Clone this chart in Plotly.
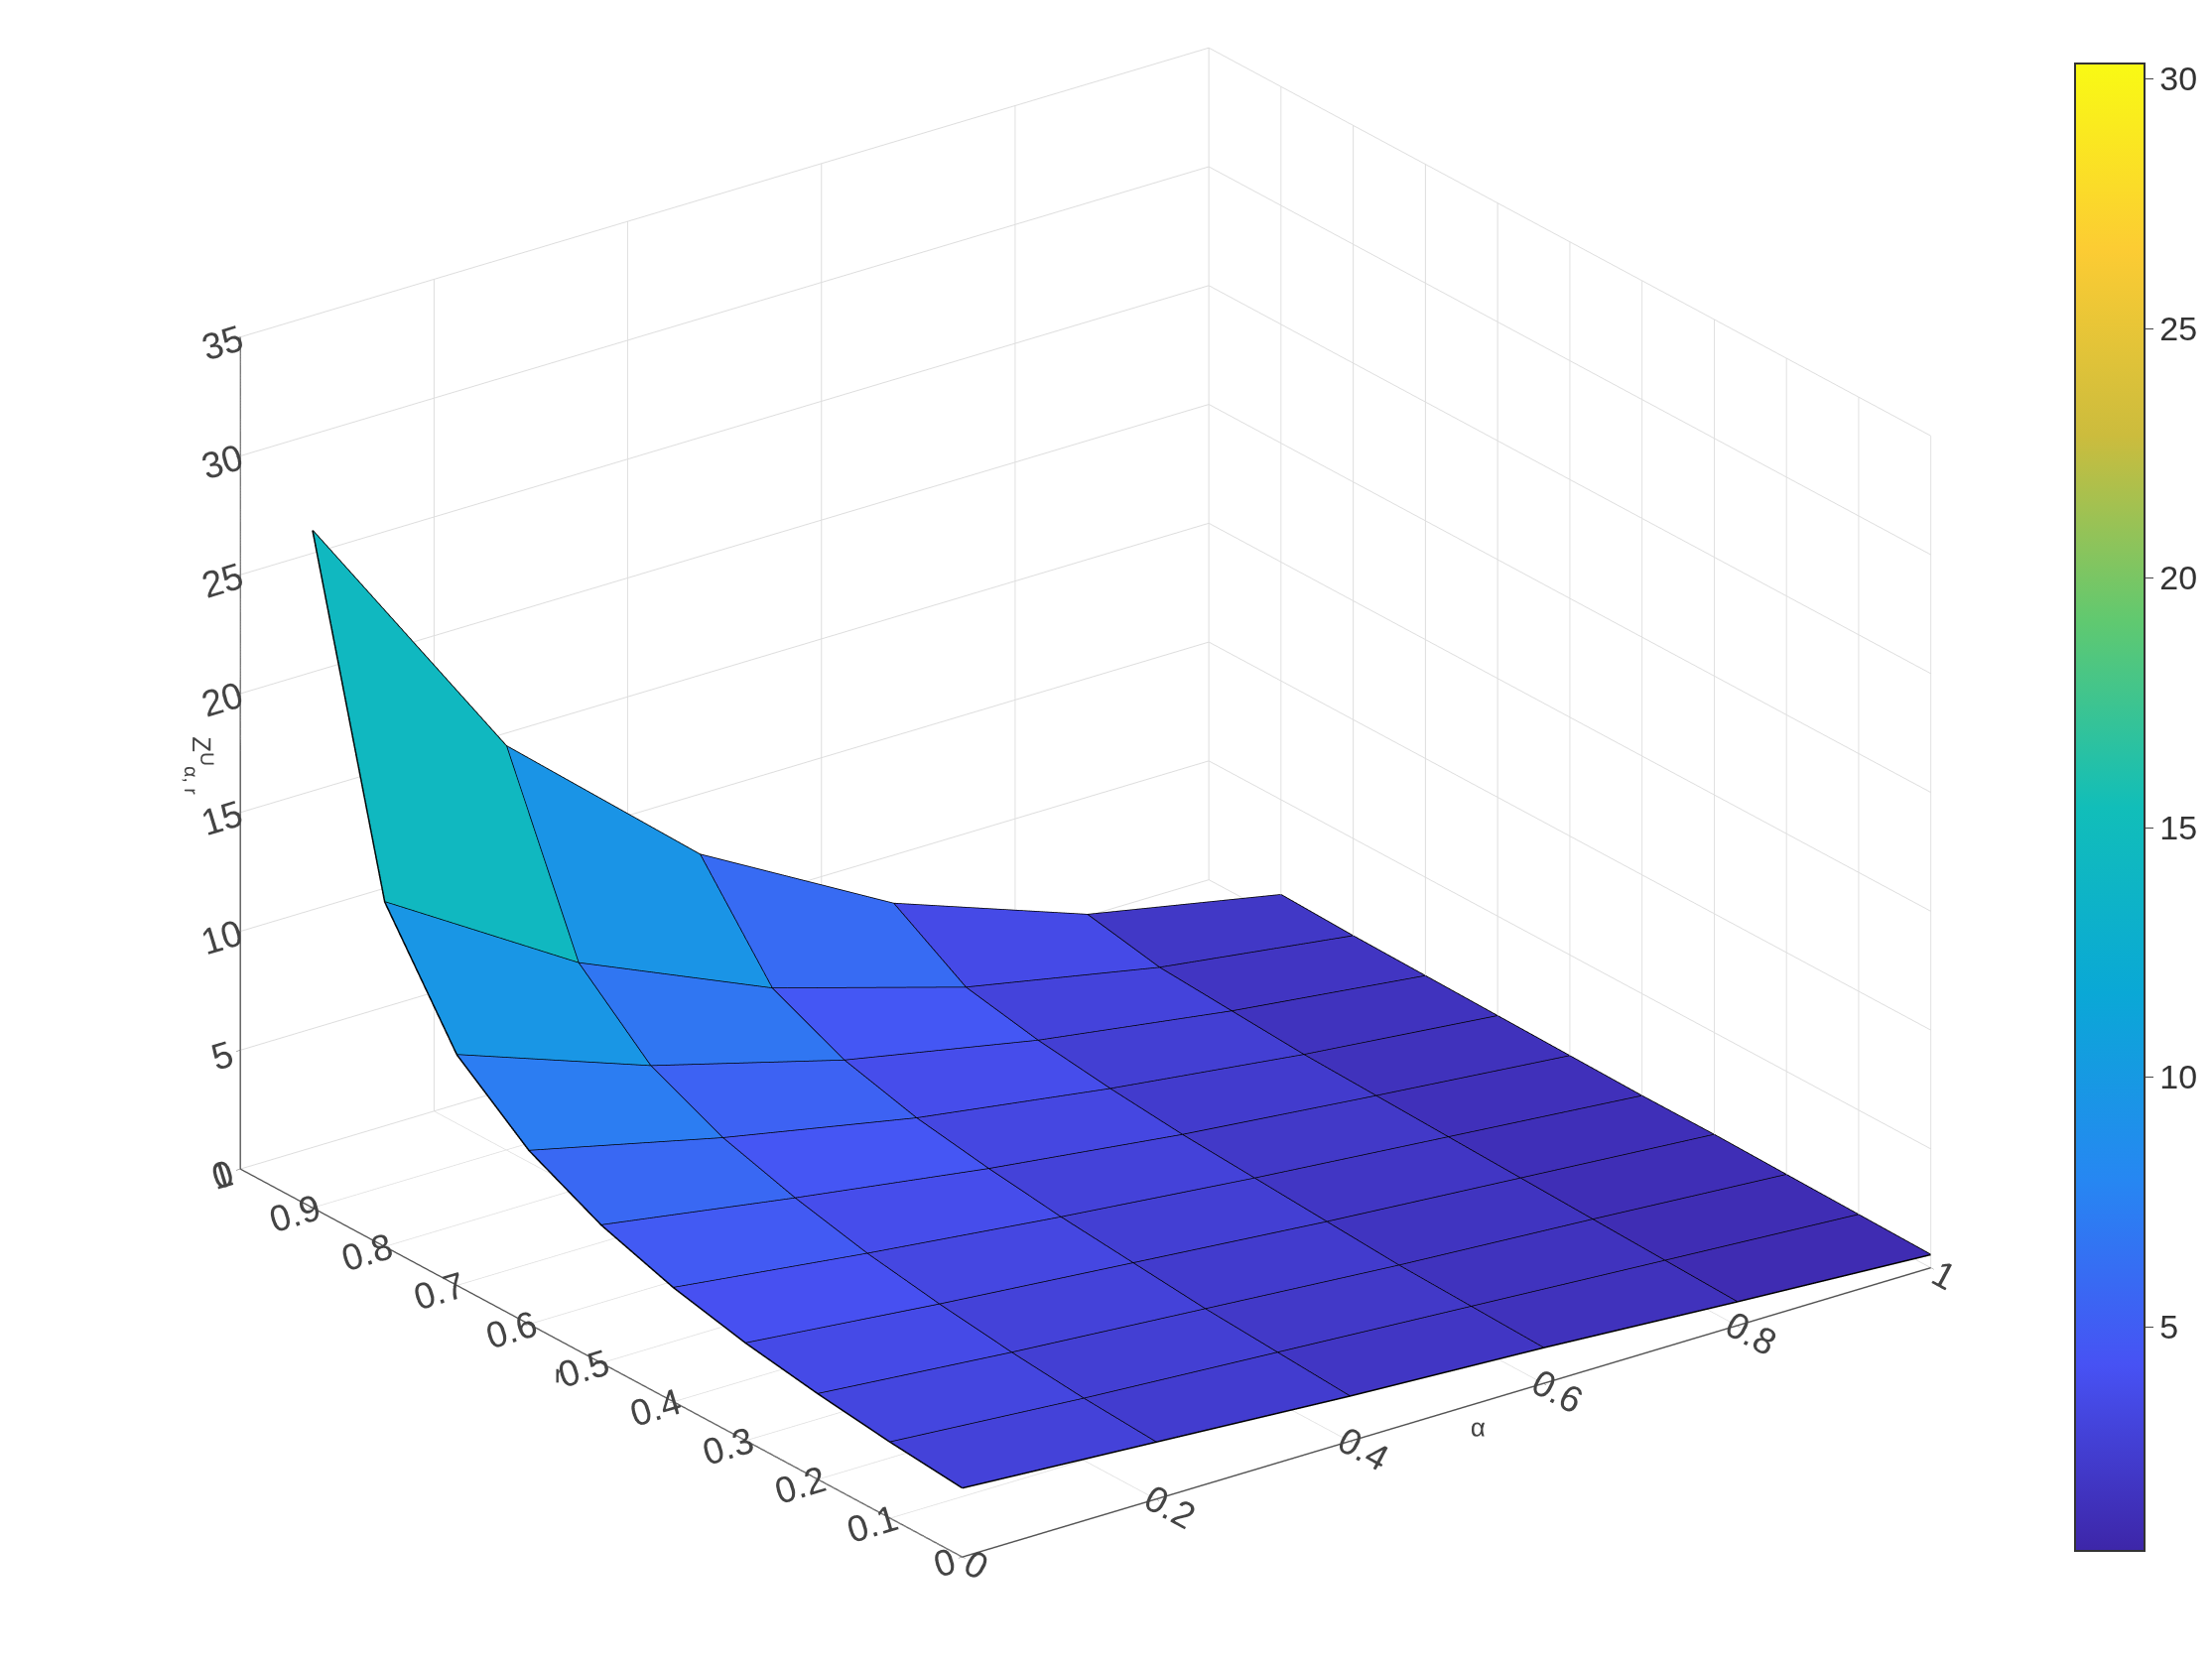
import numpy as np
import plotly.graph_objects as go

alpha_vals = [0.0, 0.2, 0.4, 0.6, 0.8, 1.0]
r_vals = [0.0, 0.1, 0.2, 0.3, 0.4, 0.5, 0.6, 0.7, 0.8, 0.9]
# rows: r, cols: alpha
z_vals = [
    [2.9, 2.4, 1.9, 1.5, 1.0, 0.55],
    [3.2, 2.6, 2.1, 1.6, 1.1, 0.6],
    [3.6, 2.9, 2.3, 1.7, 1.2, 0.65],
    [4.1, 3.3, 2.6, 1.9, 1.3, 0.7],
    [4.8, 3.8, 2.9, 2.1, 1.4, 0.7],
    [5.8, 4.5, 3.3, 2.3, 1.5, 0.75],
    [7.3, 5.4, 3.8, 2.6, 1.6, 0.8],
    [9.7, 6.8, 4.6, 3.0, 1.8, 0.85],
    [14.5, 9.5, 6.0, 3.6, 2.0, 0.9],
    [28.5, 17.0, 10.0, 5.5, 2.6, 1.0],
]
cmin, cmax = 0.5, 30.3

parula = [
    (0.0, (0.2422, 0.1504, 0.6603)),
    (0.125, (0.2810, 0.3228, 0.9579)),
    (0.25, (0.1500, 0.5300, 0.9500)),
    (0.375, (0.0400, 0.6600, 0.8400)),
    (0.5, (0.0704, 0.7457, 0.7258)),
    (0.625, (0.3800, 0.7900, 0.4400)),
    (0.75, (0.8000, 0.7400, 0.2400)),
    (0.875, (0.9900, 0.8000, 0.2000)),
    (1.0, (0.9769, 0.9839, 0.0805)),
]
colorscale = [[p, "rgb(%d,%d,%d)" % tuple(int(255 * c) for c in rgb)] for p, rgb in parula]

def pcolor(v):
    t = min(max((v - cmin) / (cmax - cmin), 0), 1)
    for (p0, c0), (p1, c1) in zip(parula[:-1], parula[1:]):
        if t <= p1:
            f = (t - p0) / (p1 - p0)
            c = [c0[i] + f * (c1[i] - c0[i]) for i in range(3)]
            return "rgb(%d,%d,%d)" % tuple(int(255 * x) for x in c)
    return "rgb(247,251,20)"

Z = np.array(z_vals)
nr, na = Z.shape
X, Y = np.meshgrid(alpha_vals, r_vals)
xs, ys, zs = X.ravel(), Y.ravel(), Z.ravel()
I, J, K, FC = [], [], [], []
for a in range(nr - 1):
    for b in range(na - 1):
        p00 = a * na + b
        p01 = a * na + b + 1
        p10 = (a + 1) * na + b
        p11 = (a + 1) * na + b + 1
        col = pcolor(Z[a, b])
        I += [p00, p00]; J += [p01, p11]; K += [p11, p10]; FC += [col, col]

fig = go.Figure()
fig.add_trace(go.Mesh3d(x=xs, y=ys, z=zs, i=I, j=J, k=K, facecolor=FC, flatshading=True,
                        lighting=dict(ambient=1, diffuse=0, specular=0, fresnel=0),
                        hoverinfo="skip", showscale=False))
lx, ly, lz = [], [], []
for a in range(nr):
    lx += list(X[a]) + [None]; ly += list(Y[a]) + [None]; lz += list(Z[a]) + [None]
for b in range(na):
    lx += list(X[:, b]) + [None]; ly += list(Y[:, b]) + [None]; lz += list(Z[:, b]) + [None]
fig.add_trace(go.Scatter3d(x=lx, y=ly, z=lz, mode="lines", line=dict(color="black", width=3),
                           hoverinfo="skip", showlegend=False))
fig.add_trace(go.Scatter3d(x=[0], y=[0], z=[0], mode="markers", showlegend=False, hoverinfo="skip",
                           marker=dict(size=0.1, opacity=0, color=[cmin], cmin=cmin, cmax=cmax,
                                       colorscale=colorscale, showscale=True,
                                       colorbar=dict(x=0.93, xanchor="left", y=0.52, yanchor="middle",
                                                     len=0.905, thickness=70, tickvals=[5, 10, 15, 20, 25, 30],
                                                     ticks="outside", ticklen=8, outlinewidth=2,
                                                     outlinecolor="#333",
                                                     tickfont=dict(size=34, color="#333")))))

ax = dict(showbackground=False, gridcolor="#dddddd", gridwidth=2, showline=True, linecolor="#555",
          linewidth=3, zeroline=False, tickfont=dict(size=21, color="#444"), ticks="outside",
          tickcolor="#555", showspikes=False)
fig.update_layout(
    width=2229, height=1679, paper_bgcolor="white", font=dict(family="Liberation Sans"),
    margin=dict(l=0, r=0, t=0, b=0),
    scene=dict(
        domain=dict(x=[0.025, 0.925], y=[0.0, 1.0]),
        xaxis=dict(ax, range=[0, 1], tickvals=[0, 0.2, 0.4, 0.6, 0.8, 1], ticktext=["0", "0.2", "0.4", "0.6", "0.8", "1"],
                   title=dict(text="α", font=dict(size=26, color="#444"))),
        yaxis=dict(ax, range=[0, 1], tickvals=[i / 10 for i in range(11)],
                   ticktext=["0", "0.1", "0.2", "0.3", "0.4", "0.5", "0.6", "0.7", "0.8", "0.9", "1"],
                   title=dict(text="r", font=dict(size=26, color="#444"))),
        zaxis=dict(ax, range=[0, 35], tickvals=list(range(0, 36, 5)),
                   title=dict(text="Z<sup>U</sup><sub>α, r</sub>", font=dict(size=26, color="#444"))),
        aspectmode="manual", aspectratio=dict(x=1.45, y=1.45, z=1.09),
        camera=dict(eye=dict(x=-0.86, y=-1.1, z=0.56), center=dict(x=-0.04, y=0.0, z=-0.04),
                    projection=dict(type="orthographic")),
    ),
)
fig.write_html("out.html")
